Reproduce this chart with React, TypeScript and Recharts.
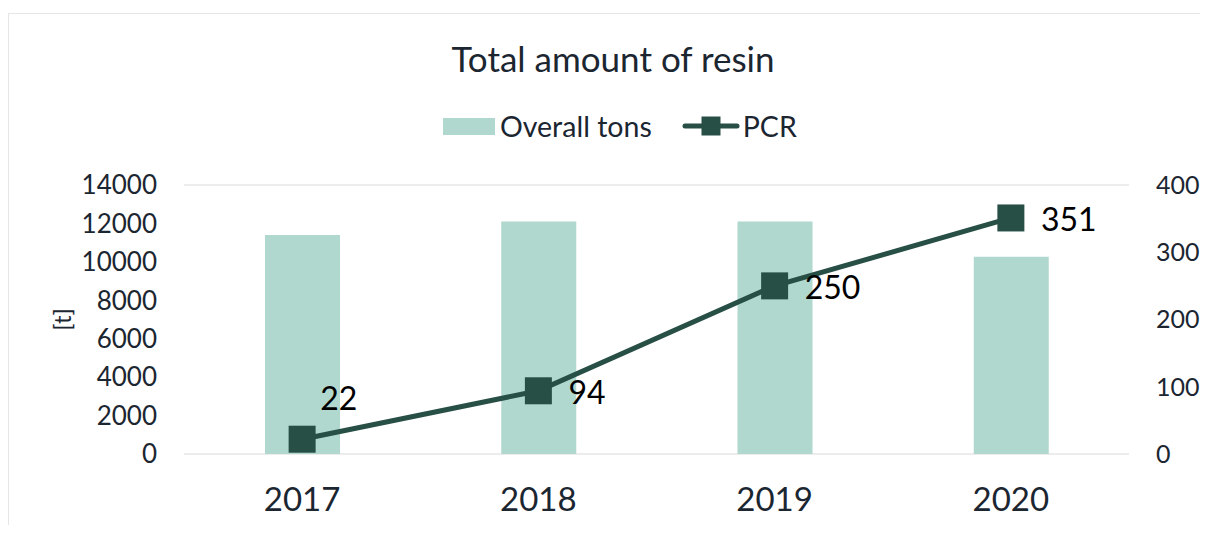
import React from 'react';
import {
  ComposedChart,
  Bar,
  Line,
  XAxis,
  YAxis,
  CartesianGrid,
  Legend,
  LabelList,
} from 'recharts';

const years = ['2017', '2018', '2019', '2020'];
const overallTons = [11400, 12100, 12100, 10270];
const pcr = [22, 94, 250, 351];
const leftTicks = [0, 2000, 4000, 6000, 8000, 10000, 12000, 14000];
const rightTicks = [0, 100, 200, 300, 400];

const data = years.map((y, i) => ({ year: y, overall: overallTons[i], pcr: pcr[i] }));

const FONT = 'Lato, "Open Sans", sans-serif';
const TEXT = '#1b2631';
const BAR = '#b0d8ce';
const LINE = '#284f45';

const SquareDot = (props: any) => {
  const { cx, cy, index } = props;
  const s = 27;
  return <rect key={`dot-${index}`} x={cx - s / 2} y={cy - s / 2} width={s} height={s} fill={LINE} />;
};

const PcrLabel = (props: any) => {
  const { x, y, value, index } = props;
  const first = index === 0;
  return (
    <text
      x={x + (first ? 18 : 30)}
      y={y + (first ? -42 : 1)}
      fill="#000"
      fontFamily={FONT}
      fontSize={32}
      textAnchor="start"
      dominantBaseline="central"
    >
      {value}
    </text>
  );
};

const LegendContent = () => (
  <div
    style={{
      display: 'flex',
      alignItems: 'center',
      height: 30,
      fontFamily: FONT,
      fontSize: 28.5,
      color: TEXT,
      whiteSpace: 'nowrap',
    }}
  >
    <span style={{ display: 'inline-block', width: 52, height: 17, background: BAR, marginRight: 5 }} />
    <span>Overall tons</span>
    <svg width={58} height={22} style={{ marginLeft: 30, marginRight: 3 }}>
      <line x1={3} y1={11} x2={55} y2={11} stroke={LINE} strokeWidth={5} strokeLinecap="round" />
      <rect x={19.5} y={1.5} width={19} height={19} fill={LINE} />
    </svg>
    <span>PCR</span>
  </div>
);

const AxisTitle = (props: any) => {
  const vb = props.viewBox || {};
  const cx = (vb.x || 0) + 53;
  const cy = (vb.y || 0) + (vb.height || 0) / 2;
  return (
    <text
      x={cx}
      y={cy}
      transform={`rotate(-90, ${cx}, ${cy})`}
      textAnchor="middle"
      dominantBaseline="central"
      fill={TEXT}
      fontFamily={FONT}
      fontSize={24}
    >
      [t]
    </text>
  );
};

export default function App() {
  return (
    <div style={{ position: 'relative', width: 1192, height: 517 }}>
      <div
        style={{
          position: 'absolute',
          left: 0,
          top: 5,
          width: 1192,
          height: 512,
          borderTop: '1.5px solid #e6e6e6',
          borderLeft: '1.5px solid #e6e6e6',
          boxSizing: 'border-box',
        }}
      />
      <div
        style={{
          position: 'absolute',
          left: 0,
          width: 1192,
          top: 28,
          paddingLeft: 18,
          boxSizing: 'border-box',
          textAlign: 'center',
          fontFamily: FONT,
          fontSize: 35,
          color: TEXT,
          lineHeight: '44px',
        }}
      >
        Total amount of resin
      </div>
      <div style={{ position: 'absolute', left: 0, top: 0 }}>
        <ComposedChart
          width={1192}
          height={517}
          data={data}
          margin={{ top: 147, right: 0, bottom: 0, left: 0 }}
        >
          <CartesianGrid vertical={false} stroke="#e6e6e6" strokeWidth={1.5} />
          <Legend
            verticalAlign="top"
            align="left"
            content={<LegendContent />}
            wrapperStyle={{ top: 103, left: 435, width: 'auto', height: 30 }}
          />
          <XAxis
            dataKey="year"
            height={71}
            tickLine={false}
            axisLine={false}
            tickSize={0}
            tickMargin={34}
            tick={{ fill: TEXT, fontFamily: FONT, fontSize: 33 }}
            interval={0}
          />
          <YAxis
            yAxisId="left"
            orientation="left"
            width={176}
            domain={[0, 14000]}
            ticks={leftTicks}
            tickLine={false}
            axisLine={false}
            tickSize={0}
            tickMargin={27}
            tick={{ fill: TEXT, fontFamily: FONT, fontSize: 26 }}
            label={<AxisTitle />}
            interval={0}
          />
          <YAxis
            yAxisId="right"
            orientation="right"
            width={71}
            domain={[0, 400]}
            ticks={rightTicks}
            tickLine={false}
            axisLine={false}
            tickSize={0}
            tickMargin={27}
            tick={{ fill: TEXT, fontFamily: FONT, fontSize: 25, textAnchor: 'start' }}
            interval={0}
          />
          <Bar
            yAxisId="left"
            dataKey="overall"
            name="Overall tons"
            fill={BAR}
            barSize={75}
            isAnimationActive={false}
          />
          <Line
            yAxisId="right"
            dataKey="pcr"
            name="PCR"
            type="linear"
            stroke={LINE}
            strokeWidth={5}
            dot={<SquareDot />}
            activeDot={false}
            isAnimationActive={false}
          >
            <LabelList dataKey="pcr" content={<PcrLabel />} />
          </Line>
        </ComposedChart>
      </div>
    </div>
  );
}
